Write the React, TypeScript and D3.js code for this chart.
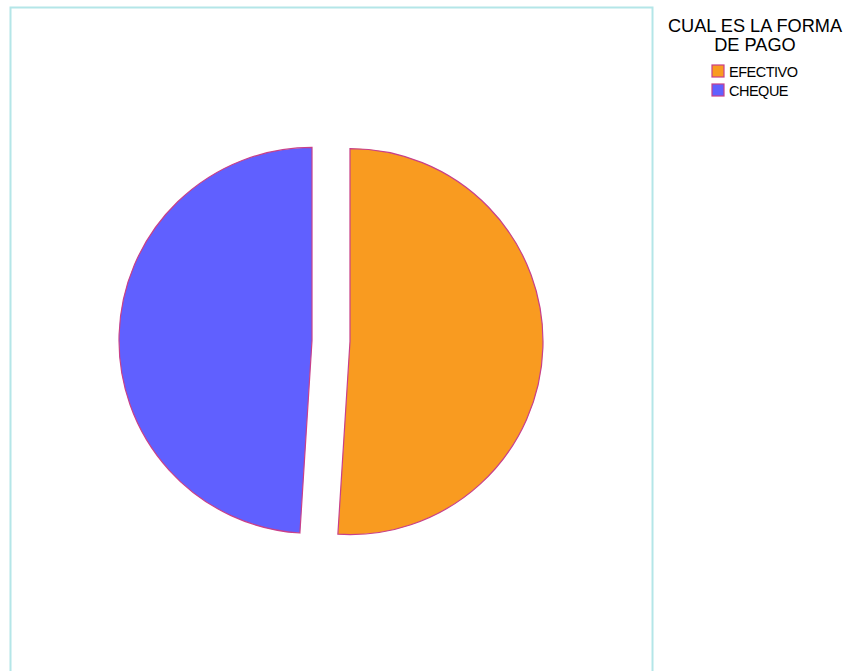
import React from "react";
import * as d3 from "d3";

const categories = ["EFECTIVO", "CHEQUE"];
const values = [51, 49];
const colors = ["#f99b20", "#6060ff"];
const legendTitle = ["CUAL ES LA FORMA", "DE PAGO"];

export default function App() {
  const W = 847, H = 671;
  const cx = 331, cy = 341, r = 193, offset = 19;
  const pie = d3.pie<number>().sort(null).value((d) => d);
  const arcs = pie(values);
  const arcGen = d3.arc<d3.PieArcDatum<number>>().innerRadius(0).outerRadius(r);
  return (
    <svg width={W} height={H} style={{ position: "absolute", left: 0, top: 0 }}>
      <rect x={10.5} y={7.5} width={642} height={700} fill="none" stroke="#b4e6e8" strokeWidth={2} />
      {arcs.map((a, i) => {
        const mid = (a.startAngle + a.endAngle) / 2;
        const dx = Math.sin(mid) * offset;
        const dy = -Math.cos(mid) * offset;
        return (
          <path
            key={i}
            d={arcGen(a) || ""}
            transform={`translate(${cx + dx},${cy + dy})`}
            fill={colors[i]}
            stroke="#c8408a"
            strokeWidth={1.2}
          />
        );
      })}
      <g fontFamily="Liberation Sans, Arial, sans-serif" fill="#000">
        {legendTitle.map((t, i) => (
          <text key={i} x={755} y={32 + i * 19} textAnchor="middle" fontSize={18.2}>
            {t}
          </text>
        ))}
        {categories.map((c, i) => (
          <g key={c}>
            <rect x={712} y={65 + i * 19} width={12} height={12} fill={colors[i]} stroke="#c8408a" strokeWidth={1.2} />
            <text x={729} y={77 + i * 19} fontSize={14.5} letterSpacing={-0.5}>
              {c}
            </text>
          </g>
        ))}
      </g>
    </svg>
  );
}
